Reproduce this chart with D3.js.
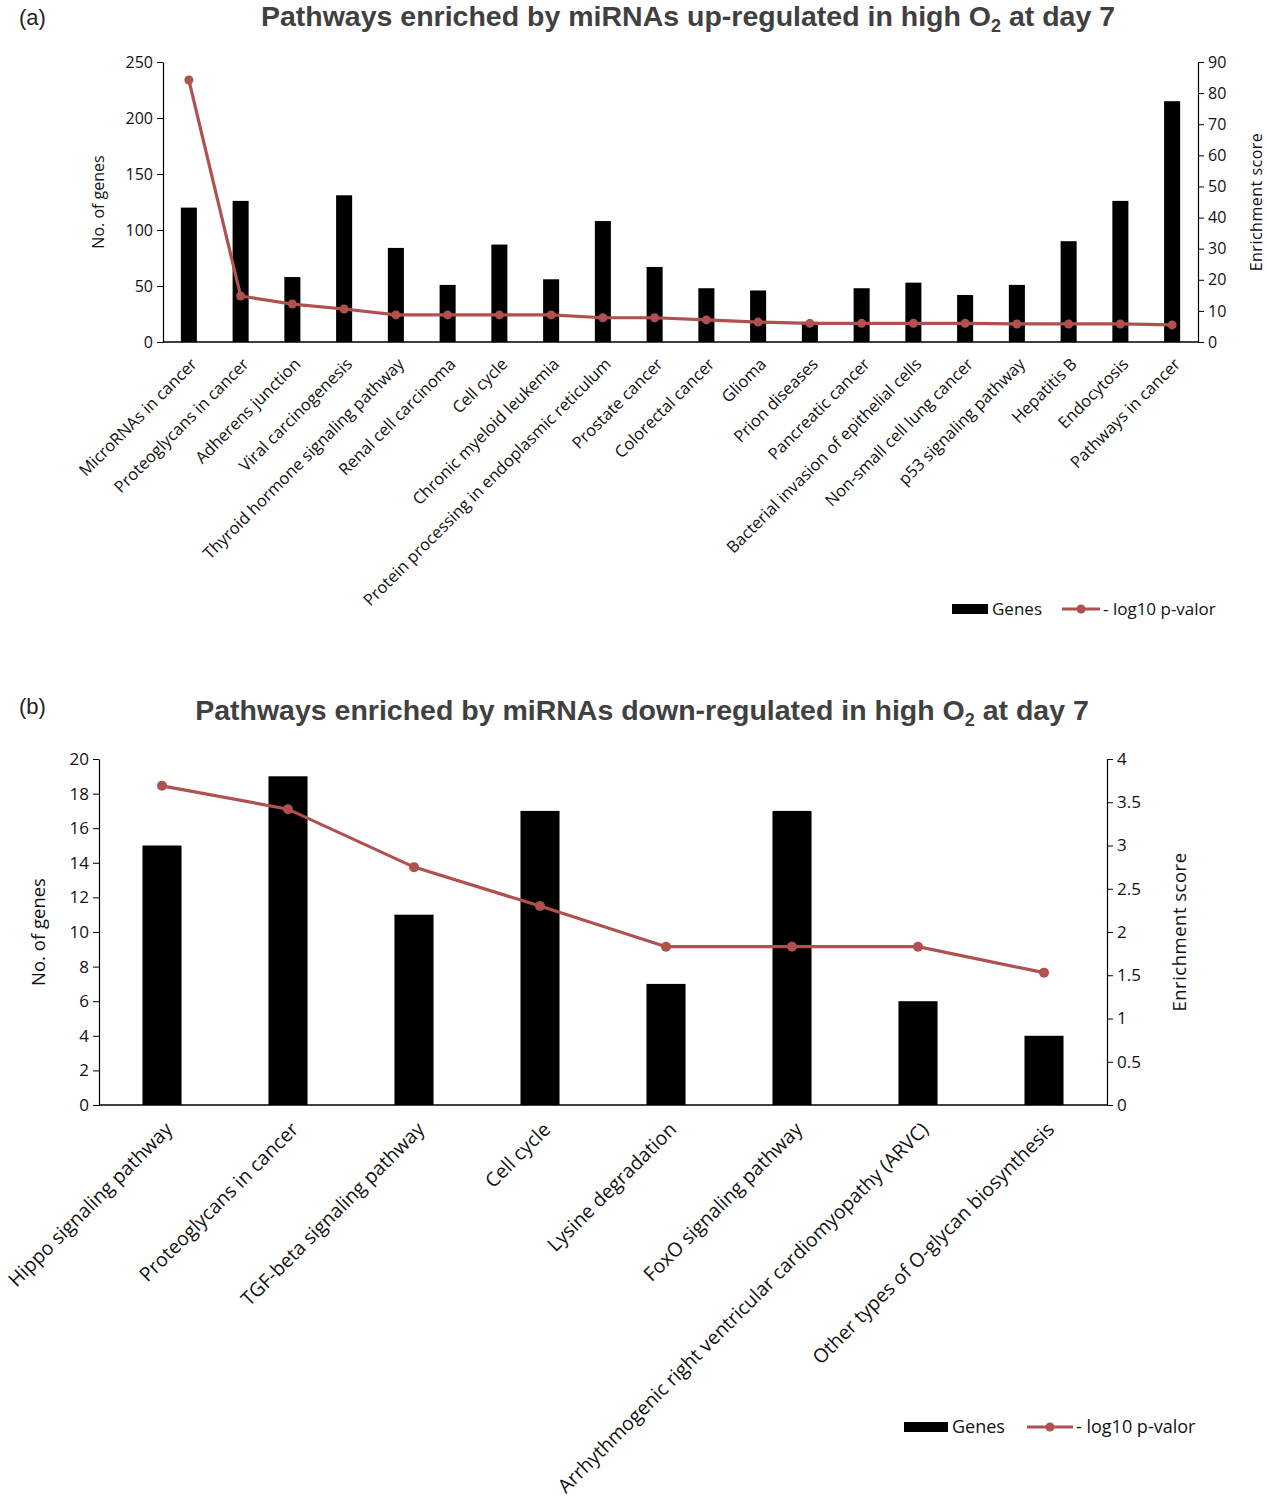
<!DOCTYPE html>
<html><head><meta charset="utf-8">
<script src="https://cdn.jsdelivr.net/npm/d3@7"></script>
<style>
body{margin:0;background:#fff;}
svg{display:block;}
text{font-family:"Open Sans","Noto Sans",sans-serif;}
.title{font-family:"Liberation Sans",Arial,sans-serif;font-weight:bold;fill:#404040;}
.panel{font-family:"Liberation Sans",Arial,sans-serif;fill:#222;}
</style></head>
<body>
<svg id="c" width="1267" height="1509"></svg>
<script>
// ---- Panel (a) data ----
const catsA = ["MicroRNAs in cancer","Proteoglycans in cancer","Adherens junction","Viral carcinogenesis","Thyroid hormone signaling pathway","Renal cell carcinoma","Cell cycle","Chronic myeloid leukemia","Protein processing in endoplasmic reticulum","Prostate cancer","Colorectal cancer","Glioma","Prion diseases","Pancreatic cancer","Bacterial invasion of epithelial cells","Non-small cell lung cancer","p53 signaling pathway","Hepatitis B","Endocytosis","Pathways in cancer"];
const genesA = [120,126,58,131,84,51,87,56,108,67,48,46,18,48,53,42,51,90,126,215];
const scoreA = [84.2,14.8,12.2,10.6,8.7,8.7,8.7,8.7,7.8,7.8,7.1,6.4,6.0,6.0,6.0,6.0,5.8,5.8,5.8,5.5];
const leftTicksA = [0,50,100,150,200,250];
const rightTicksA = [0,10,20,30,40,50,60,70,80,90];

// ---- Panel (b) data ----
const catsB = ["Hippo signaling pathway","Proteoglycans in cancer","TGF-beta signaling pathway","Cell cycle","Lysine degradation","FoxO signaling pathway","Arrhythmogenic right ventricular cardiomyopathy (ARVC)","Other types of O-glycan biosynthesis"];
const genesB = [15,19,11,17,7,17,6,4];
const scoreB = [3.69,3.42,2.75,2.30,1.83,1.83,1.83,1.53];
const leftTicksB = [0,2,4,6,8,10,12,14,16,18,20];
const rightTicksB = [0,0.5,1,1.5,2,2.5,3,3.5,4];

const lineColor = "#b0504f";
const svg = d3.select("#c");

function panel(cfg){
  const g = svg.append("g");
  const x = d3.scaleBand().domain(cfg.cats).range([cfg.x0,cfg.x1]).paddingInner(cfg.pad).paddingOuter(cfg.pad/2);
  const yL = d3.scaleLinear().domain([0,cfg.lmax]).range([cfg.y1,cfg.y0]);
  const yR = d3.scaleLinear().domain([0,cfg.rmax]).range([cfg.y1,cfg.y0]);
  // bars
  g.selectAll("rect.bar").data(cfg.cats).join("rect").attr("class","bar")
    .attr("x",d=>x(d)).attr("width",x.bandwidth())
    .attr("y",(d,i)=>yL(cfg.genes[i])).attr("height",(d,i)=>cfg.y1-yL(cfg.genes[i]))
    .attr("fill","#000");
  // axes
  const fmt = d3.format("~g");
  const axL = d3.axisLeft(yL).tickValues(cfg.lt).tickFormat(fmt).tickSize(6).tickSizeOuter(0);
  const axR = d3.axisRight(yR).tickValues(cfg.rt).tickFormat(fmt).tickSize(6).tickSizeOuter(0);
  const gl = g.append("g").attr("transform",`translate(${cfg.x0},0)`).call(axL);
  const gr = g.append("g").attr("transform",`translate(${cfg.x1},0)`).call(axR);
  [gl,gr].forEach(a=>{
    a.select(".domain").attr("stroke","#000").attr("stroke-width",1.2);
    a.selectAll(".tick line").attr("stroke","#000");
    a.selectAll(".tick text").attr("font-size",cfg.tfs).attr("fill","#111")
      .attr("font-family","'Open Sans','Noto Sans',sans-serif");
  });
  gl.selectAll(".tick text").attr("x",-10);
  gr.selectAll(".tick text").attr("x",10);
  // x axis line
  g.append("line").attr("x1",cfg.x0).attr("x2",cfg.x1).attr("y1",cfg.y1).attr("y2",cfg.y1)
    .attr("stroke","#000").attr("stroke-width",1.5);
  // line series
  const line = d3.line().x((d,i)=>x(cfg.cats[i])+x.bandwidth()/2).y(d=>yR(d));
  g.append("path").datum(cfg.score).attr("d",line).attr("fill","none")
    .attr("stroke",lineColor).attr("stroke-width",3.2);
  g.selectAll("circle.pt").data(cfg.score).join("circle").attr("class","pt")
    .attr("cx",(d,i)=>x(cfg.cats[i])+x.bandwidth()/2).attr("cy",d=>yR(d))
    .attr("r",cfg.r).attr("fill",lineColor);
  // category labels
  g.selectAll("text.cat").data(cfg.cats).join("text").attr("class","cat")
    .attr("transform",d=>`translate(${x(d)+x.bandwidth()/2+cfg.lx},${cfg.y1+cfg.ly}) rotate(-45)`)
    .attr("text-anchor","end").attr("dy","0.7em").attr("font-size",cfg.cfs).attr("fill","#111")
    .text(d=>d);
  // axis titles
  g.append("text").attr("transform",`translate(${cfg.ltx},${(cfg.y0+cfg.y1)/2}) rotate(-90)`)
    .attr("text-anchor","middle").attr("font-size",cfg.afs).attr("fill","#111").text("No. of genes");
  g.append("text").attr("transform",`translate(${cfg.rtx},${(cfg.y0+cfg.y1)/2}) rotate(-90)`)
    .attr("text-anchor","middle").attr("font-size",cfg.afs).attr("fill","#111").attr("letter-spacing","0.5").text("Enrichment score");
  // title
  const t = g.append("text").attr("class","title").attr("x",cfg.tx).attr("y",cfg.ty)
    .attr("text-anchor","middle").attr("font-size",28.5);
  t.append("tspan").text(cfg.title1);
  t.append("tspan").attr("font-size",18).attr("dy",6).text("2");
  t.append("tspan").attr("dy",-6).text(" at day 7");
  g.append("text").attr("class","panel").attr("x",cfg.px).attr("y",cfg.py).attr("font-size",22).text(cfg.plabel);
  // legend
  const L = cfg.leg;
  g.append("rect").attr("x",L.x).attr("y",L.y-5).attr("width",L.rw).attr("height",10).attr("fill","#000");
  g.append("text").attr("x",L.x+L.rw+4).attr("y",L.y).attr("dy","0.35em").attr("font-size",L.fs).attr("fill","#111").text("Genes");
  const lx = L.x+L.rw+L.gap;
  g.append("line").attr("x1",lx).attr("x2",lx+L.lw).attr("y1",L.y).attr("y2",L.y).attr("stroke",lineColor).attr("stroke-width",3.2);
  g.append("circle").attr("cx",lx+L.lw/2).attr("cy",L.y).attr("r",4.5).attr("fill",lineColor);
  g.append("text").attr("x",lx+L.lw+3).attr("y",L.y).attr("dy","0.35em").attr("font-size",L.fs).attr("fill","#111").text("- log10 p-valor");
}

panel({cats:catsA,genes:genesA,score:scoreA,lt:leftTicksA,rt:rightTicksA,lmax:250,rmax:90,
  x0:163,x1:1198,y0:62,y1:342,pad:0.69,r:4.5,tfs:16,cfs:16.5,afs:16,lx:1,ly:15,
  ltx:104,rtx:1262,title1:"Pathways enriched by miRNAs up-regulated in high O",tx:688,ty:26,
  plabel:"(a)",px:19,py:25,
  leg:{x:952,y:609,rw:36,gap:74,lw:38,fs:17}});

panel({cats:catsB,genes:genesB,score:scoreB,lt:leftTicksB,rt:rightTicksB,lmax:20,rmax:4,
  x0:99,x1:1107,y0:759,y1:1105,pad:0.69,r:5,tfs:17,cfs:19.5,afs:18.5,lx:2,ly:16,
  ltx:45,rtx:1186,title1:"Pathways enriched by miRNAs down-regulated in high O",tx:642,ty:720,
  plabel:"(b)",px:19,py:714,
  leg:{x:904,y:1427,rw:44,gap:79,lw:46,fs:18}});
</script>
</body></html>
